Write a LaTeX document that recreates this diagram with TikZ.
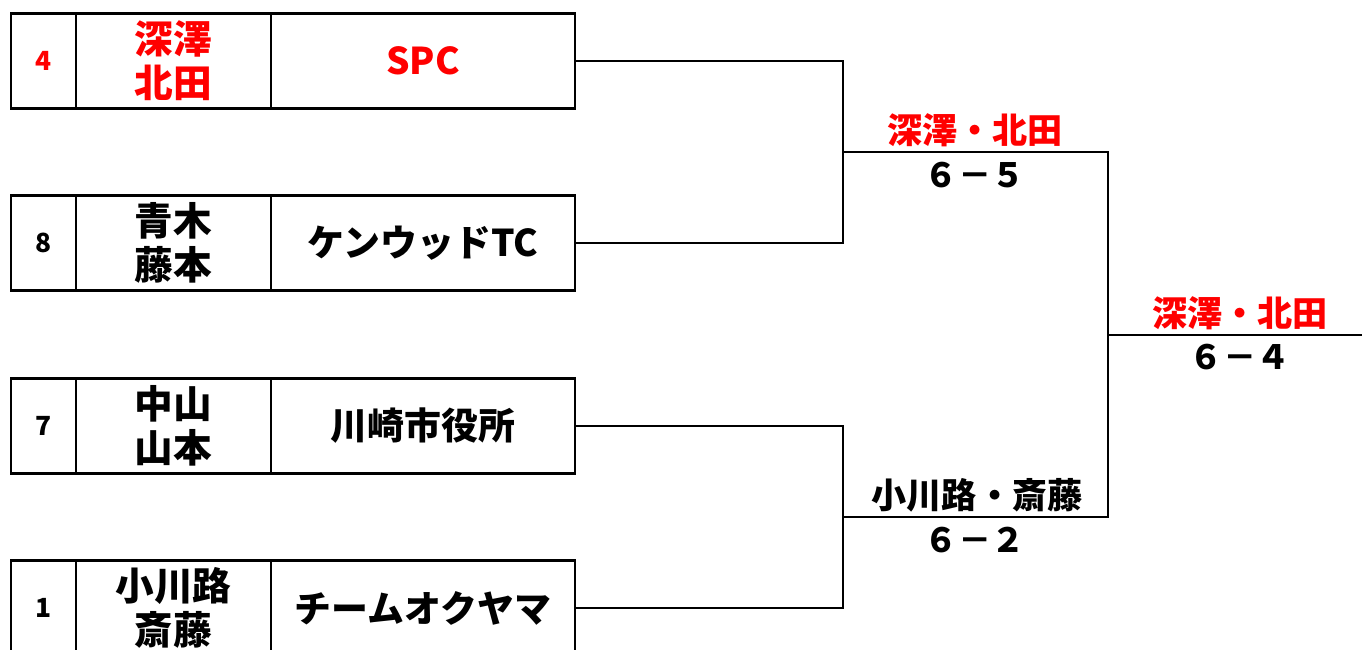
\documentclass[tikz,border=0pt]{standalone}
\usepackage{fontspec}
\setmainfont{Noto Sans CJK JP}
\usepackage{xcolor}
\usetikzlibrary{positioning}
\definecolor{winred}{RGB}{255,0,0}
\tikzset{
  cell/.style={draw, line width=0.85pt, minimum height=0.95cm, inner sep=0pt, outer sep=0pt, align=center},
  seedcell/.style={cell, minimum width=0.65cm, font=\bfseries\fontsize{7.5}{9}\selectfont},
  paircell/.style={cell, minimum width=1.95cm, font=\bfseries\fontsize{11}{12.5}\selectfont},
  teamcell/.style={cell, minimum width=3.04cm, font=\bfseries\fontsize{10.5}{12}\selectfont},
  bracket/.style={line width=0.7pt},
  winlabel/.style={font=\bfseries\fontsize{10}{12}\selectfont, inner sep=0pt},
  scorelabel/.style={font=\bfseries\fontsize{9.5}{11}\selectfont, inner sep=0pt}
}
\begin{document}
\begin{tikzpicture}
        \useasboundingbox (0,0) rectangle (13.62,-6.49);

        % entries
        \node[seedcell, text=winred] (seed1) at (0.435,-0.61) {4};
        \node[paircell, text=winred, right=0pt of seed1] (pair1) {深澤\\北田};
        \node[teamcell, text=winred, right=0pt of pair1] (team1) {SPC};

        \node[seedcell] (seed2) at (0.435,-2.43) {8};
        \node[paircell, right=0pt of seed2] (pair2) {青木\\藤本};
        \node[teamcell, right=0pt of pair2] (team2) {ケンウッドTC};

        \node[seedcell] (seed3) at (0.435,-4.26) {7};
        \node[paircell, right=0pt of seed3] (pair3) {中山\\山本};
        \node[teamcell, right=0pt of pair3] (team3) {川崎市役所};

        \node[seedcell] (seed4) at (0.435,-6.08) {1};
        \node[paircell, right=0pt of seed4] (pair4) {小川路\\斎藤};
        \node[teamcell, right=0pt of pair4] (team4) {チームオクヤマ};

        % bracket
        \coordinate (semi1) at (8.43,-1.52);
        \coordinate (semi2) at (8.43,-5.17);
        \coordinate (fin1) at (11.08,-1.52);
        \coordinate (fin2) at (11.08,-5.17);
        \coordinate (champ) at (13.62,-3.35);

        \draw[bracket] (team1.east) -| (semi1) |- (team2.east);
        \draw[bracket] (team3.east) -| (semi2) |- (team4.east);
        \draw[bracket] (semi1) -- (fin1) -- (fin2) -- (semi2);
        \draw[bracket] (champ) -- (champ -| fin1);

        \node[winlabel, text=winred] (win1) at (9.75,-1.30) {深澤・北田};
        \node[scorelabel] (score1) at (9.75,-1.75) {６－５};
        \node[winlabel] (win2) at (9.77,-4.95) {小川路・斎藤};
        \node[scorelabel] (score2) at (9.75,-5.40) {６－２};
        \node[winlabel, text=winred] (win3) at (12.40,-3.13) {深澤・北田};
        \node[scorelabel] (score3) at (12.40,-3.57) {６－４};
\end{tikzpicture}
\end{document}
